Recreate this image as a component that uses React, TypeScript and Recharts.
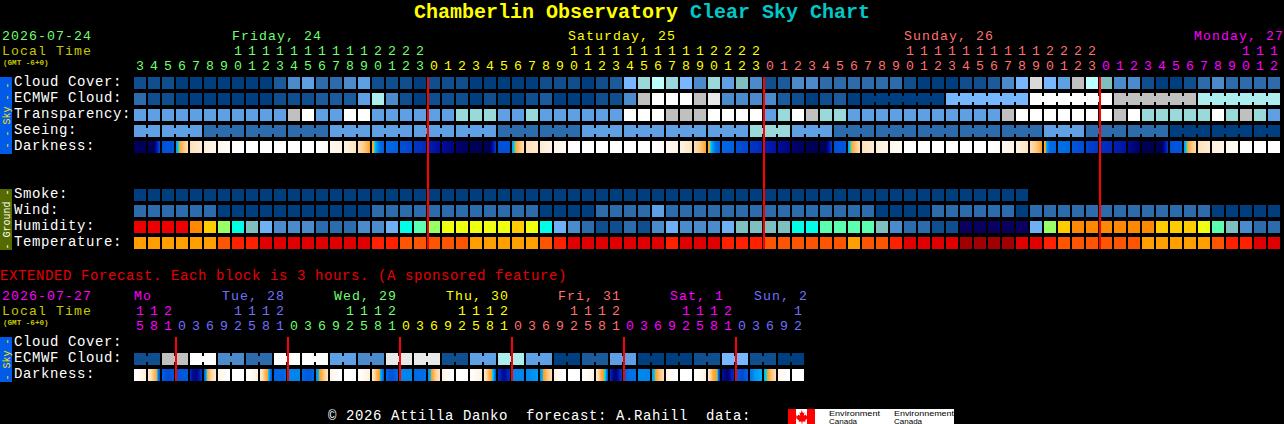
import { ScatterChart, Scatter, XAxis, YAxis, ReferenceLine } from 'recharts';

const MONO = '"Liberation Mono", monospace';
const MAGENTA = '#FF00FF';
const BLUE = '#7070FF';
const GREEN = '#70FF70';
const YELLOW = '#FFFF00';
const SALMON = '#FF7070';

// ---- block forecast, one block per hour ----
const mainHours = [
  3, 4, 5, 6, 7, 8, 9, 10, 11, 12, 13, 14, 15, 16, 17, 18, 19, 20, 21, 22, 23,
  0, 1, 2, 3, 4, 5, 6, 7, 8, 9, 10, 11, 12, 13, 14, 15, 16, 17, 18, 19, 20, 21, 22, 23,
  0, 1, 2, 3, 4, 5, 6, 7, 8, 9, 10, 11, 12, 13, 14, 15, 16, 17, 18, 19, 20, 21, 22, 23,
  0, 1, 2, 3, 4, 5, 6, 7, 8, 9, 10, 11, 12,
];
const mainDayStarts = [0, 21, 45, 69];
const mainDayColors = [GREEN, YELLOW, SALMON, MAGENTA];
const mainMidnights = [21, 45, 69];

// sky levels index into skyPalette
const cloudCover = [
  1, 1, 1, 0, 0, 0, 0, 0, 0, 0, 2, 4, 5, 3, 3, 4, 5, 1, 1, 1, 0,
  1, 1, 1, 0, 0, 0, 0, 0, 1, 1, 1, 0, 1, 2, 6, 8, 10, 8, 6, 4, 8, 5, 7, 4,
  1, 2, 4, 4, 3, 3, 3, 3, 3, 3, 1, 0, 0, 0, 1, 1, 2, 4, 6, 12, 6, 5, 11, 10,
  7, 4, 4, 1, 0, 0, 1, 3, 4, 3, 3, 3, 3,
];
const ecmwfCloud = [
  3, 1, 1, 0, 0, 0, 0, 0, 0, 0, 1, 1, 1, 2, 2, 2, 5, 9, 4, 1, 0,
  1, 1, 1, 0, 1, 0, 0, 1, 2, 0, 0, 0, 1, 1, 4, 11, 14, 14, 14, 11, 13, 4, 4, 4,
  4, 2, 1, 0, 1, 2, 0, 0, 0, 0, 0, 0, 0, 6, 6, 6, 6, 6, 6, 14, 14, 14, 14, 14,
  14, 11, 11, 11, 11, 11, 11, 9, 9, 9, 9, 9, 9,
];
const transparency = [
  5, 5, 5, 5, 5, 5, 5, 5, 5, 5, 5, 11, 14, 5, 5, 14, 14, 5, 5, 5, 5,
  5, 5, 8, 8, 8, 5, 5, 8, 5, 5, 5, 5, 5, 5, 14, 14, 14, 11, 11, 11, 14, 14, 14, 14,
  5, 8, 14, 11, 8, 8, 5, 5, 5, 5, 5, 5, 5, 5, 5, 5, 5, 11, 14, 14, 14, 14, 14, 14,
  14, 11, 14, 8, 8, 8, 8, 8, 14, 8, 11, 8, 5,
];
const seeing = [
  5, 5, 5, 5, 5, 3, 3, 3, 3, 3, 3, 3, 3, 3, 5, 5, 5, 5, 5, 5, 5,
  5, 5, 5, 5, 5, 3, 3, 3, 3, 3, 3, 5, 5, 5, 5, 5, 5, 5, 5, 5, 5, 5, 5, 8,
  8, 8, 5, 5, 5, 3, 3, 3, 3, 3, 3, 3, 3, 3, 3, 3, 3, 3, 3, 3, 5, 5, 5, 3,
  3, 3, 3, 3, 3, 0, 0, 0, 0, 0, 0, 0, 0,
];
// limiting magnitude inside each block, left to right, index into darknessRamp
const darkness = [
  [8, 8], [8, 8, 40], [40, 42], [52, 58, 66, 72], [72, 80], [80, 88], [90, 96], [98, 100],
  [100, 100], [100, 100], [100, 100], [100, 100], [100, 100], [100, 96], [92, 86], [84, 74],
  [72, 66, 57], [60, 55, 50, 46, 44], [46, 44], [40, 36], [32, 28],
  [25, 20], [20, 14], [12, 10], [8, 7], [6, 8, 35], [40, 40], [52, 58, 66, 72], [72, 78], [78, 86],
  [88, 94], [98, 100], [100, 100], [100, 100], [100, 100], [100, 100], [100, 100], [100, 94],
  [92, 86], [84, 74], [72, 66, 57], [60, 55, 50, 46, 44], [46, 44], [40, 36], [32, 28],
  [26, 22], [20, 14], [12, 10], [8, 7], [6, 8, 35], [40, 42], [52, 58, 66, 72], [72, 80], [80, 88],
  [90, 96], [100, 100], [100, 100], [100, 100], [100, 100], [100, 100], [100, 100], [100, 96],
  [92, 86], [84, 74], [72, 66, 57], [60, 52, 47, 46, 46], [48, 46], [42, 38], [36, 32],
  [30, 28], [26, 22], [18, 10], [6, 6], [6, 8, 34], [40, 42], [52, 58, 66, 70], [72, 80], [82, 88],
  [90, 96], [100, 100], [100, 100], [100, 100],
];
const smoke = [
  0, 0, 0, 0, 0, 0, 0, 0, 0, 0, 0, 0, 0, 0, 0, 0, 0, 0, 0, 0, 0,
  0, 0, 0, 0, 0, 0, 0, 0, 0, 0, 0, 0, 0, 0, 0, 0, 0, 0, 0, 0, 0, 0, 0, 0,
  0, 0, 0, 0, 0, 0, 0, 0, 0, 0, 0, 0, 0, 0, 0, 0, 0, 0, 0,
];
const wind = [
  3, 3, 3, 3, 3, 3, 0, 0, 0, 0, 0, 0, 0, 0, 0, 0, 0, 3, 3, 3, 3,
  3, 3, 3, 3, 3, 3, 3, 3, 0, 0, 0, 0, 3, 3, 3, 3, 5, 3, 3, 3, 3, 3, 3, 3,
  3, 3, 3, 3, 3, 3, 3, 3, 0, 0, 0, 0, 3, 3, 3, 3, 3, 3, 0, 3, 3, 3, 3, 3,
  3, 3, 3, 3, 3, 3, 3, 3, 0, 0, 0, 0, 0,
];
const humidity = [
  12, 12, 12, 12, 11, 10, 8, 7, 5, 4, 3, 3, 3, 2, 2, 2, 3, 3, 4, 7, 6,
  8, 9, 9, 9, 9, 9, 10, 9, 7, 4, 3, 2, 1, 1, 2, 1, 3, 4, 3, 3, 3, 4, 5, 5,
  5, 5, 7, 7, 6, 6, 6, 6, 5, 3, 2, 2, 1, 1, 0, 0, 0, 0, 0, 4, 8, 10, 11, 11,
  11, 11, 11, 11, 10, 10, 10, 9, 6, 5, 3, 2, 2,
];
const temperature = [
  4, 4, 4, 4, 4, 4, 3, 2, 2, 1, 1, 1, 1, 1, 1, 1, 1, 2, 2, 3, 3,
  3, 3, 3, 4, 4, 4, 4, 4, 3, 2, 1, 1, 1, 1, 1, 1, 1, 2, 1, 1, 1, 2, 2, 2,
  3, 3, 3, 3, 3, 3, 4, 3, 3, 2, 1, 1, 1, 1, 0, 0, 0, 0, 1, 1, 2, 3, 3, 3,
  3, 3, 3, 4, 4, 4, 4, 4, 3, 2, 2, 1, 1,
];

// ---- extended forecast, one block per 3 hours ----
const extHours = [
  15, 18, 21,
  0, 3, 6, 9, 12, 15, 18, 21,
  0, 3, 6, 9, 12, 15, 18, 21,
  0, 3, 6, 9, 12, 15, 18, 21,
  0, 3, 6, 9, 12, 15, 18, 21,
  0, 3, 6, 9, 12, 15, 18, 21,
  0, 3, 6, 9, 12,
];
const extDayStarts = [0, 3, 11, 19, 27, 35, 43];
const extDayColors = [MAGENTA, BLUE, GREEN, YELLOW, SALMON, MAGENTA, BLUE];
const extMidnights = [3, 11, 19, 27, 35, 43];
const extEcmwfCloud = [
  1, 1, 11, 11, 14, 14, 4, 4, 3, 3, 14, 14, 14, 14, 5, 5, 4, 4, 13, 13, 13, 13, 1, 1,
  5, 5, 9, 9, 5, 5, 0, 0, 2, 2, 5, 5, 0, 0, 0, 0, 1, 1, 6, 6, 1, 1, 0, 0,
];
const extDarkness = [
  [100, 92, 80], [78, 72, 64, 57, 40], [44, 38, 42], [40, 42, 42], [30, 18, 14, 22, 34], [44, 57, 66, 72, 78],
  [84, 96, 100], [100, 100], [100, 94, 82], [78, 72, 64, 58, 52, 40], [44, 46, 44, 48], [50, 50],
  [46, 42, 46], [50, 57, 66, 74], [84, 96, 100], [100, 100], [100, 92, 82], [78, 70, 62, 57, 52, 44],
  [46, 40, 46], [50, 50], [46, 48], [50, 57, 68, 74], [84, 96, 100], [100, 100],
  [100, 92, 84], [78, 70, 62, 57, 54, 42], [30, 18, 30], [50, 50], [50, 52], [50, 57, 66, 72],
  [84, 96, 100], [100, 100], [100, 94, 84], [78, 70, 62, 57, 55, 42], [30, 16, 12, 24, 34], [44, 48, 48],
  [50, 50], [52, 57, 66, 72], [86, 96, 100], [100, 100], [100, 94, 84], [78, 70, 60, 57, 55.5, 30],
  [20, 14, 12, 24, 30], [44, 38, 44], [48, 52, 54], [54, 57, 66, 72], [88, 96, 100], [100, 100],
];

// ---- row labels ----
const mainRowLabels = ['Cloud Cover:', 'ECMWF Cloud:', 'Transparency:', 'Seeing:', 'Darkness:', '', '', 'Smoke:', 'Wind:', 'Humidity:', 'Temperature:'];
const extRowLabels = ['Cloud Cover:', 'ECMWF Cloud:', 'Darkness:'];

// ---- palettes ----
const skyPalette = [
  '#003F7F', '#0F4F8F', '#1B5B9B', '#2C6CAC', '#4B8BCB', '#5F9FE3', '#77B7FF', '#7FBFBF',
  '#99D9D9', '#ADEDED', '#BBFFFF', '#C0C0C0', '#D9D9D9', '#E9E9E9', '#FFFFFF',
];
const humidityPalette = [
  '#0A0060', '#0F4F8F', '#2C6CAC', '#4B8BCB', '#6FAFF3', '#7FBFBF', '#5CFFB0', '#00FFE6',
  '#99FF66', '#EEFF10', '#FFCC00', '#FF8800', '#EE0000',
];
const temperaturePalette = ['#A00000', '#E00000', '#FF2000', '#FF5500', '#FFA000'];
const darknessRamp: [number, number[]][] = [
  [0, [0, 0, 64]],
  [10, [0, 0, 96]],
  [20, [0, 12, 160]],
  [30, [0, 48, 192]],
  [40, [0, 80, 216]],
  [48, [0, 112, 232]],
  [54, [0, 176, 248]],
  [55.9, [0, 224, 224]],
  [56, [255, 156, 24]],
  [64, [255, 192, 112]],
  [72, [255, 224, 184]],
  [82, [255, 240, 222]],
  [92, [255, 248, 240]],
  [100, [255, 255, 255]],
];

function rampColor(level: number) {
  for (let i = 1; i < darknessRamp.length; i++) {
    const [hi, hiColor] = darknessRamp[i];
    if (level <= hi) {
      const [lo, loColor] = darknessRamp[i - 1];
      const t = (level - lo) / (hi - lo);
      const c = loColor.map((v, k) => Math.round(v + (hiColor[k] - v) * t));
      return `rgb(${c[0]},${c[1]},${c[2]})`;
    }
  }
  return '#FFFFFF';
}

function levelAt(stops: number[], t: number) {
  const p = t * (stops.length - 1);
  const i = Math.min(Math.floor(p), stops.length - 2);
  return stops[i] + (stops[i + 1] - stops[i]) * (p - i);
}

function BlockShape(props: any) {
  const { cx, cy, payload } = props;
  const { level, palette, joined } = payload;
  return (
    <g shapeRendering="crispEdges">
      <rect x={cx} y={cy} width={12} height={12} fill={palette[level]} />
      {joined && <rect x={cx + 12} y={cy + 3} width={2} height={6} fill={palette[level]} />}
    </g>
  );
}

function DarknessShape(props: any) {
  const { cx, cy, payload } = props;
  const columns = Array.from({ length: 12 }, (_, k) => k);
  return (
    <g shapeRendering="crispEdges">
      {columns.map((k) => (
        <rect key={k} x={cx + k} y={cy} width={1} height={12} fill={rampColor(levelAt(payload.stops, (k + 0.5) / 12))} />
      ))}
    </g>
  );
}

function blocks(values: number[], row: number, palette: string[], joinedAt?: (i: number) => boolean) {
  return values.map((level, hour) => ({
    hour,
    row,
    level,
    palette,
    joined: joinedAt ? joinedAt(hour) && hour < values.length - 1 : false,
  }));
}

function darkBlocks(cells: number[][], row: number) {
  return cells.map((stops, hour) => ({ hour, row, stops }));
}

function dayColor(index: number, starts: number[], colors: string[]) {
  let color = colors[0];
  starts.forEach((s, d) => {
    if (index >= s) color = colors[d];
  });
  return color;
}

function hourTick(hours: number[], starts: number[], colors: string[]) {
  return (props: any) => {
    const { x, payload } = props;
    const hour = hours[payload.value];
    const fill = dayColor(payload.value, starts, colors);
    return (
      <g fontFamily={MONO} fontSize={13.2} textAnchor="middle" fill={fill}>
        {hour >= 10 && (
          <text x={x + 6} y={54.5} fill={fill}>
            {Math.floor(hour / 10)}
          </text>
        )}
        <text x={x + 6} y={69.5} fill={fill}>
          {hour % 10}
        </text>
      </g>
    );
  };
}

function rowTick(labels: string[]) {
  return (props: any) => {
    const { y, payload } = props;
    return (
      <text x={14} y={y + 9} fontFamily={MONO} fontSize={14} letterSpacing={0.6} fill="#FFFFFF">
        {labels[payload.value]}
      </text>
    );
  };
}

const mainJoinSeeing = (i: number) => i % 3 !== 1;
const mainJoinEcmwf = (i: number) => i >= 52 && (i - 52) % 6 !== 5;
const extJoin = (i: number) => i % 2 === 0;

function MainChart() {
  return (
    <ScatterChart width={1284} height={260} margin={{ top: 0, right: 2, bottom: 7, left: 0 }} style={{ position: 'absolute', left: 0, top: 0 }}>
      <XAxis
        type="number"
        dataKey="hour"
        orientation="top"
        height={77}
        domain={[0, 82]}
        ticks={mainHours.map((_, i) => i)}
        interval={0}
        axisLine={false}
        tickLine={false}
        tick={hourTick(mainHours, mainDayStarts, mainDayColors)}
      />
      <YAxis
        type="number"
        dataKey="row"
        reversed
        width={134}
        domain={[0, 11]}
        ticks={[0, 1, 2, 3, 4, 7, 8, 9, 10]}
        interval={0}
        axisLine={false}
        tickLine={false}
        tick={rowTick(mainRowLabels)}
      />
      <Scatter data={blocks(cloudCover, 0, skyPalette)} shape={BlockShape} isAnimationActive={false} />
      <Scatter data={blocks(ecmwfCloud, 1, skyPalette, mainJoinEcmwf)} shape={BlockShape} isAnimationActive={false} />
      <Scatter data={blocks(transparency, 2, skyPalette)} shape={BlockShape} isAnimationActive={false} />
      <Scatter data={blocks(seeing, 3, skyPalette, mainJoinSeeing)} shape={BlockShape} isAnimationActive={false} />
      <Scatter data={darkBlocks(darkness, 4)} shape={DarknessShape} isAnimationActive={false} />
      <Scatter data={blocks(smoke, 7, skyPalette)} shape={BlockShape} isAnimationActive={false} />
      <Scatter data={blocks(wind, 8, skyPalette)} shape={BlockShape} isAnimationActive={false} />
      <Scatter data={blocks(humidity, 9, humidityPalette)} shape={BlockShape} isAnimationActive={false} />
      <Scatter data={blocks(temperature, 10, temperaturePalette)} shape={BlockShape} isAnimationActive={false} />
      {mainMidnights.map((m) => (
        <ReferenceLine key={m} segment={[{ x: m, y: 0 }, { x: m, y: 10.75 }]} stroke="#FF0000" strokeWidth={2} zIndex={700} />
      ))}
    </ScatterChart>
  );
}

function ExtendedChart() {
  return (
    <ScatterChart width={1284} height={164} margin={{ top: 0, right: 478, bottom: 39, left: 0 }} style={{ position: 'absolute', left: 0, top: 260 }}>
      <XAxis
        type="number"
        dataKey="hour"
        orientation="top"
        height={77}
        domain={[0, 48]}
        ticks={extHours.map((_, i) => i)}
        interval={0}
        axisLine={false}
        tickLine={false}
        tick={hourTick(extHours, extDayStarts, extDayColors)}
      />
      <YAxis
        type="number"
        dataKey="row"
        reversed
        width={134}
        domain={[0, 3]}
        ticks={[0, 1, 2]}
        interval={0}
        axisLine={false}
        tickLine={false}
        tick={rowTick(extRowLabels)}
      />
      <Scatter data={blocks(extEcmwfCloud, 1, skyPalette, extJoin)} shape={BlockShape} isAnimationActive={false} />
      <Scatter data={darkBlocks(extDarkness, 2)} shape={DarknessShape} isAnimationActive={false} />
      {extMidnights.map((m) => (
        <ReferenceLine key={m} segment={[{ x: m, y: 0 }, { x: m, y: 2.75 }]} stroke="#FF0000" strokeWidth={2} zIndex={700} />
      ))}
    </ScatterChart>
  );
}

function SideStrip({ y, height, fill, color, label }: { y: number; height: number; fill: string; color: string; label: string }) {
  const mid = y + height / 2;
  return (
    <g>
      <rect x={0} y={y} width={12} height={height} fill={fill} />
      <text
        transform={`rotate(-90 6 ${mid})`}
        x={6}
        y={mid + 3.5}
        fontFamily={MONO}
        fontSize={10}
        textAnchor="middle"
        fill={color}
        xmlSpace="preserve"
      >
        {label}
      </text>
    </g>
  );
}

function Overlay() {
  const txt = { fontFamily: MONO, fontSize: 14, letterSpacing: 0.6 };
  const tight = { fontFamily: MONO, fontSize: 13.2, letterSpacing: 1.08 };
  const dayLabels: [string, number, number, string][] = [
    ['Friday, 24', 232, 39.5, GREEN],
    ['Saturday, 25', 568, 39.5, YELLOW],
    ['Sunday, 26', 904, 39.5, SALMON],
    ['Monday, 27', 1194, 39.5, MAGENTA],
    ['Mo', 134, 299.5, MAGENTA],
    ['Tue, 28', 222, 299.5, BLUE],
    ['Wed, 29', 334, 299.5, GREEN],
    ['Thu, 30', 446, 299.5, YELLOW],
    ['Fri, 31', 558, 299.5, SALMON],
    ['Sat, 1', 670, 299.5, MAGENTA],
    ['Sun, 2', 754, 299.5, BLUE],
  ];
  return (
    <svg width={1284} height={424} style={{ position: 'absolute', left: 0, top: 0, pointerEvents: 'none' }}>
      <text x={414} y={18} fontFamily={MONO} fontSize={20} fontWeight="bold" fill="#FFFF00">
        Chamberlin Observatory
      </text>
      <text x={690} y={18} fontFamily={MONO} fontSize={20} fontWeight="bold" fill="#00C8C8">
        Clear Sky Chart
      </text>

      <text x={2} y={39.5} {...tight} fill={GREEN}>2026-07-24</text>
      <text x={2} y={54.5} {...tight} fill="#C8C800">Local Time</text>
      <text x={3} y={64.5} fontFamily={MONO} fontSize={7.6} fontWeight="bold" fill="#C8C800">(GMT -6+0)</text>
      <text x={0} y={280} {...txt} fill="#E80000">EXTENDED Forecast. Each block is 3 hours. (A sponsored feature)</text>
      <text x={2} y={299.5} {...tight} fill={MAGENTA}>2026-07-27</text>
      <text x={2} y={314.5} {...tight} fill="#C8C800">Local Time</text>
      <text x={3} y={324.5} fontFamily={MONO} fontSize={7.6} fontWeight="bold" fill="#C8C800">(GMT -6+0)</text>
      {dayLabels.map(([label, x, y, fill]) => (
        <text key={label} x={x} y={y} {...tight} fill={fill}>
          {label}
        </text>
      ))}

      <SideStrip y={77} height={77} fill="#005CE8" color="#FFE000" label="- - Sky - -" />
      <SideStrip y={189} height={61} fill="#556B00" color="#FFFFFF" label="- Ground -" />
      <SideStrip y={337} height={45} fill="#005CE8" color="#FFE000" label="- Sky -" />

      <text x={328} y={420} {...txt} fill="#FFFFFF" xmlSpace="preserve">
        © 2026 Attilla Danko  forecast: A.Rahill  data:
      </text>
      <rect x={788} y={409} width={166} height={15} fill="#FFFFFF" />
      <rect x={788} y={409} width={8} height={15} fill="#FF0000" />
      <rect x={807} y={409} width={8} height={15} fill="#FF0000" />
      <path d="M801.5 410l1.5 3 1.500-.8-.7 3.600 1.700-1.300 .6 1.300 2-.3-.6 2 .6 .5-3 2.500 .4 1.300-3-.4v2h-1v-2l-3 .4 .4-1.300-3-2.500 .6-.5-.6-2 2 .3 .6-1.300 1.700 1.300-.7-3.600 1.500 .8z" fill="#FF0000" />
      <text x={829} y={416} fontFamily="Liberation Sans" fontSize={8} textLength={51} lengthAdjust="spacingAndGlyphs" fill="#000000">Environment</text>
      <text x={829} y={423.5} fontFamily="Liberation Sans" fontSize={8} fill="#000000">Canada</text>
      <text x={894} y={416} fontFamily="Liberation Sans" fontSize={8} textLength={60} lengthAdjust="spacingAndGlyphs" fill="#000000">Environnement</text>
      <text x={894} y={423.5} fontFamily="Liberation Sans" fontSize={8} fill="#000000">Canada</text>
    </svg>
  );
}

export default function App() {
  return (
    <div style={{ position: 'absolute', left: 0, top: 0, width: 1284, height: 424, background: '#000000', overflow: 'hidden' }}>
      <MainChart />
      <ExtendedChart />
      <Overlay />
    </div>
  );
}
